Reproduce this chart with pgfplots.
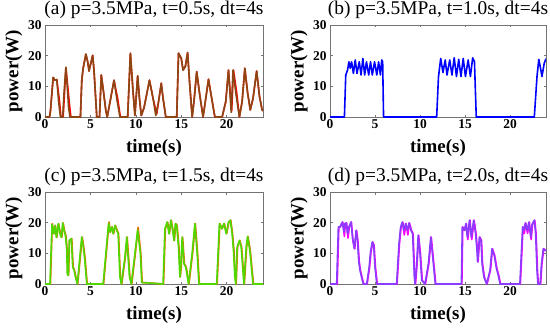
\documentclass[border=0pt]{standalone}
\usepackage{pgfplots}
\pgfplotsset{compat=1.18}
\usepackage{fontspec}
\setmainfont{Liberation Serif}
\definecolor{brownA}{RGB}{140,70,20}
\definecolor{redA}{RGB}{255,0,0}
\definecolor{blueB}{RGB}{0,0,255}
\definecolor{greenC}{RGB}{80,215,0}
\definecolor{orangeC}{RGB}{235,110,0}
\definecolor{magD}{RGB}{255,0,255}
\definecolor{vioD}{RGB}{140,60,255}
\pgfplotsset{
  panel/.style={
    scale only axis, height=92bp, anchor=south west,
    xmin=0, xmax=24, ymin=0, ymax=30,
    xtick={0,5,10,15,20}, ytick={0,10,20,30},
    tick align=inside, major tick length=2.5bp,
    axis line style={black!55, line width=0.5bp},
    every tick/.style={black!55, line width=0.5bp},
    /pgf/number format/assume math mode=true,
    tick label style={font=\fontsize{13.5}{15}\selectfont\bfseries},
    xticklabel style={yshift=1bp},
    xlabel={time(s)}, ylabel={power(W)},
    label style={font=\fontsize{19}{22}\selectfont\bfseries},
    xlabel style={at={(axis description cs:0.5,-0.337)}, anchor=center},
    ylabel style={at={(axis description cs:-0.143,0.5)}, anchor=center},
    title style={font=\fontsize{19.5}{22}\selectfont, at={(axis description cs:0.5,1)}, anchor=base, yshift=4.5bp},
    every axis plot/.append style={line width=1.6bp, mark=none, line join=round},
  }
}
\begin{document}
\begin{tikzpicture}[x=1bp,y=1bp]
\useasboundingbox (0,0) rectangle (550,334);
% (a)
\begin{axis}[panel, width=218bp, at={(45bp,217bp)}, title={(a) p=3.5MPa, t=0.5s, dt=4s}]
\addplot[redA] coordinates {(0,0) (0.5,0) (0.6,2) (0.9,12.9) (1.1,12) (1.3,12.2) (1.6,5) (1.75,0) (2.0,0) (2.15,8) (2.3,16.2) (2.5,10) (2.7,4) (2.85,0) (3.9,0) (4.05,12) (4.2,15.9) (4.5,20.5) (4.7,18) (4.85,15) (5.0,17) (5.25,20.1) (5.4,15) (5.7,0) (6.0,0) (6.2,13.7) (6.45,8) (6.7,2) (6.85,0) (7.1,4) (7.6,12) (8.0,6) (8.3,0) (9.1,0) (9.4,20.8) (9.7,8) (9.9,0.5) (10.2,13.4) (10.4,6) (10.6,0.5) (10.9,3) (11.5,12) (11.9,6) (12.3,1) (12.5,5) (12.8,11) (13.0,6) (13.3,0) (14.5,0) (14.7,20.8) (15.0,19.1) (15.2,15.3) (15.45,16.5) (15.7,21) (15.9,12) (16.2,0) (16.4,5) (16.7,14.8) (17.0,8) (17.4,0) (17.6,4) (18.0,12.3) (18.3,7) (18.7,0) (19.5,0) (19.9,5) (20.2,15.3) (20.55,2) (20.75,15.3) (21.1,8) (21.4,0) (21.7,5) (22.0,15.9) (22.3,8) (22.6,2.3) (22.9,6) (23.3,15) (23.6,7) (23.9,2.3) (24,2)};
\addplot[brownA] coordinates {(0,0) (0.5,0) (0.6,2) (0.9,12.9) (1.1,12) (1.3,12.2) (1.5,5) (1.7,0) (1.95,0) (2.1,8) (2.3,16.2) (2.45,10) (2.6,3) (2.75,0) (3.9,0) (4.05,12) (4.2,15.9) (4.5,20.5) (4.7,18) (4.85,15) (5.0,17) (5.25,20.1) (5.4,15) (5.7,0) (6.0,0) (6.2,13.7) (6.45,8) (6.7,2) (6.85,0) (7.1,4) (7.6,12) (7.9,6) (8.25,0) (9.1,0) (9.4,20.8) (9.7,8) (9.9,0.5) (10.2,13.4) (10.4,6) (10.6,0.5) (10.9,3) (11.5,12) (11.9,6) (12.2,0.5) (12.5,5) (12.8,11) (13.0,6) (13.3,0) (14.5,0) (14.7,20.8) (15.0,19.1) (15.2,15.3) (15.45,16.5) (15.7,21) (15.9,12) (16.2,0) (16.4,5) (16.7,14.8) (17.0,8) (17.4,0) (17.6,4) (18.0,12.3) (18.3,7) (18.7,0) (19.5,0) (19.9,5) (20.2,15.3) (20.5,1.5) (20.7,15.3) (21.0,8) (21.4,0) (21.7,5) (22.0,15.9) (22.3,8) (22.6,2.3) (22.9,6) (23.3,15) (23.6,7) (23.9,2.3) (24,2)};
\end{axis}
% (b)
\begin{axis}[panel, width=216bp, at={(330bp,217bp)}, title={(b) p=3.5MPa, t=1.0s, dt=4s}]
\addplot[blueB] coordinates {(0,0) (1.6,0) (1.75,13.7) (1.95,15.3) (2.1,18) (2.25,15.9) (2.4,18) (2.6,14.2) (2.8,18.6) (3.0,14.2) (3.25,18) (3.45,13.7) (3.65,19.1) (3.85,13.7) (4.05,18) (4.3,13.7) (4.5,18) (4.7,13.7) (4.95,18) (5.2,13.7) (5.4,18) (5.6,13.7) (5.75,18.6) (5.85,18) (5.95,0) (11.85,0) (12.05,13) (12.3,19.1) (12.55,14.5) (12.8,18.6) (13.0,13.7) (13.3,18.6) (13.55,13.7) (13.8,19.3) (14.05,13.2) (14.3,18.8) (14.55,13.2) (14.8,19.1) (15.05,13.2) (15.35,18.6) (15.6,13.2) (15.85,19.3) (16.05,18) (16.25,0) (22.7,0) (23.0,13.2) (23.2,18.8) (23.45,15) (23.55,13.2) (23.8,17.5) (24,19)};
\end{axis}
% (c)
\begin{axis}[panel, width=218bp, at={(45bp,50bp)}, title={(c) p=3.5MPa, t=1.5s, dt=4s}]
\addplot[orangeC] coordinates {(0,0) (0.6,0) (0.8,19.7) (1.0,16.4) (1.15,19.1) (1.3,15.2) (1.5,19.7) (1.7,16.4) (1.85,15.2) (2.0,19.9) (2.15,17.4) (2.3,15.8) (2.45,11) (2.5,3.4) (2.6,2.8) (2.7,14.2) (2.95,14.8) (3.1,5.5) (3.25,4.5) (3.4,2.3) (3.6,0) (3.85,7.6) (4.1,15.3) (4.25,12.5) (4.4,8.8) (4.65,0) (6.45,0) (7.05,20.2) (7.2,16.9) (7.4,18.6) (7.55,16.4) (7.75,19.1) (7.95,17.5) (8.1,16.4) (8.3,2.3) (8.45,0) (8.85,8.8) (9.05,15.3) (9.35,2.3) (9.55,0) (9.95,10) (10.25,18.5) (10.55,10) (10.7,0.5) (13.05,0) (13.25,18) (13.5,20.2) (13.7,16.4) (13.9,20.8) (14.1,17.5) (14.25,14.2) (14.4,19.7) (14.55,19.1) (14.75,12) (14.9,2.3) (15.0,5.5) (15.15,15.3) (15.35,6.6) (15.55,5.5) (15.85,0) (16.25,10) (16.55,19.7) (16.8,10) (17.0,0) (18.95,0) (19.25,19.7) (19.5,18) (19.75,19.7) (20.0,16.4) (20.25,20.2) (20.45,20.8) (20.65,16.4) (20.8,11) (20.95,2.3) (21.05,0) (21.2,12) (21.45,14.2) (21.65,12) (21.95,0) (22.2,12) (22.35,15.5) (22.6,11) (22.95,0) (24,0)};
\addplot[greenC] coordinates {(0,0) (0.55,0) (0.77,19.4) (0.95,16.4) (1.1,19.1) (1.25,15.2) (1.47,19.7) (1.65,16.4) (1.8,15.2) (1.95,19.9) (2.1,17.4) (2.25,15.8) (2.4,11) (2.45,3.4) (2.55,2.8) (2.68,14.2) (2.9,14.8) (3.05,5.5) (3.2,4.5) (3.35,2.3) (3.56,0) (3.8,7.6) (4.04,15.3) (4.2,12.5) (4.35,8.8) (4.6,0) (6.4,0) (7.0,19.8) (7.15,16.9) (7.35,18.6) (7.5,16.4) (7.7,19.1) (7.9,17.5) (8.05,16.4) (8.25,2.3) (8.4,0) (8.8,8.8) (9.0,15.3) (9.3,2.3) (9.5,0) (9.9,10) (10.2,17.6) (10.5,10) (10.65,0.5) (13.0,0) (13.2,18) (13.45,20.2) (13.65,16.4) (13.85,20.8) (14.05,17.5) (14.2,14.2) (14.35,19.7) (14.5,19.1) (14.7,12) (14.85,2.3) (14.95,5.5) (15.1,15.3) (15.3,6.6) (15.5,5.5) (15.8,0) (16.2,10) (16.5,19.7) (16.75,10) (16.95,0) (18.9,0) (19.2,19.7) (19.45,18) (19.7,19.7) (19.95,16.4) (20.2,20.2) (20.4,20.8) (20.6,16.4) (20.75,11) (20.9,2.3) (21.0,0) (21.15,12) (21.4,14.2) (21.6,12) (21.9,0) (22.15,12) (22.3,15.5) (22.55,11) (22.9,0) (24,0)};
\end{axis}
% (d)
\begin{axis}[panel, width=216bp, at={(330bp,50bp)}, title={(d) p=3.5MPa, t=2.0s, dt=4s}]
\addplot[magD] coordinates {(0,0) (0.8,0) (0.98,18.6) (1.15,18.6) (1.42,20.2) (1.6,15.5) (1.7,19.7) (1.85,19.9) (2.0,15) (2.15,18.6) (2.38,20.2) (2.55,14) (2.75,11.5) (2.95,17.5) (3.1,14.2) (3.25,7.2) (3.38,4.5) (3.55,2.3) (3.75,0) (4.13,0) (4.4,5.5) (4.55,10.4) (4.75,13.7) (4.9,12.6) (5.05,5.5) (5.25,0) (7.45,0) (7.72,13.2) (7.9,18.6) (8.09,20.2) (8.25,16) (8.45,19.7) (8.65,16) (8.83,19.9) (9.05,17.5) (9.23,16.4) (9.42,2.3) (9.5,0) (9.68,6.6) (9.85,15.9) (10.05,9.9) (10.25,1.2) (10.6,0) (10.98,6.6) (11.25,15.3) (11.5,7.7) (11.75,0) (14.65,0) (14.75,18.6) (14.98,17.5) (15.15,19.7) (15.31,14.5) (15.55,20.8) (15.75,14.5) (16.01,20.8) (16.23,16.4) (16.38,11) (16.45,7.2) (16.65,15.3) (16.83,14.2) (16.95,6.6) (17.15,2.3) (17.45,0) (17.83,4.5) (18.05,11.5) (18.3,9.3) (18.55,5) (18.75,2.8) (18.95,0) (21.15,0) (21.45,18.6) (21.6,16.5) (21.75,19.9) (21.95,16.5) (22.15,20.2) (22.35,14.5) (22.5,19.4) (22.75,20.8) (22.9,16.4) (23.05,4.5) (23.15,0) (23.4,0) (23.55,6.6) (23.75,11.5) (23.95,10.9) (24,11)};
\addplot[vioD] coordinates {(0,0) (0.74,0) (0.93,18.6) (1.1,18.6) (1.37,20.2) (1.55,17) (1.65,19.7) (1.8,19.9) (1.95,16.4) (2.1,18.6) (2.33,20.2) (2.5,15.3) (2.7,11.5) (2.9,17.5) (3.05,14.2) (3.2,7.2) (3.33,4.5) (3.5,2.3) (3.7,0) (4.08,0) (4.35,5.5) (4.5,10.4) (4.7,13.7) (4.85,12.6) (5.0,5.5) (5.2,0) (7.4,0) (7.67,13.2) (7.85,18.6) (8.04,20.2) (8.2,17.5) (8.4,19.7) (8.6,17.5) (8.78,19.9) (9.0,17.5) (9.18,16.4) (9.37,2.3) (9.45,0) (9.63,6.6) (9.8,15.9) (10.0,9.9) (10.2,1.2) (10.55,0) (10.93,6.6) (11.2,15.3) (11.45,7.7) (11.7,0) (14.6,0) (14.7,18.6) (14.93,17.5) (15.1,19.7) (15.26,15.3) (15.5,20.8) (15.7,15.3) (15.96,20.8) (16.18,16.4) (16.33,11) (16.4,7.2) (16.6,15.3) (16.78,14.2) (16.9,6.6) (17.1,2.3) (17.4,0) (17.78,4.5) (18.0,11.5) (18.25,9.3) (18.5,5) (18.7,2.8) (18.9,0) (21.1,0) (21.4,18.6) (21.55,17.5) (21.7,19.9) (21.9,17.5) (22.1,20.2) (22.3,15.3) (22.45,19.4) (22.7,20.8) (22.85,16.4) (23.0,4.5) (23.1,0) (23.35,0) (23.5,6.6) (23.7,11.5) (23.9,10.9) (24,11)};
\end{axis}
\end{tikzpicture}
\end{document}
